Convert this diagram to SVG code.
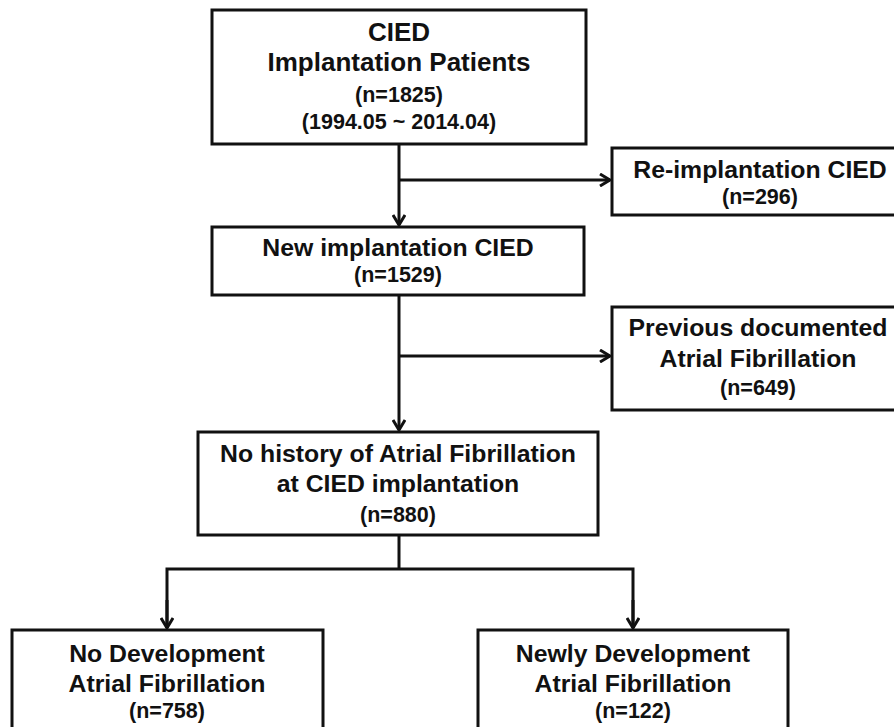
<svg xmlns="http://www.w3.org/2000/svg" width="894" height="727" viewBox="0 0 894 727">
<defs>
<style>
.box{fill:#fff;stroke:#111;stroke-width:3}
.t{font-family:"Liberation Sans",Arial,sans-serif;font-weight:bold;fill:#111;text-anchor:middle}
.big{font-size:26px}
.m{font-size:24.8px}
.s{font-size:21.5px}
.ln{fill:none;stroke:#111;stroke-width:3}
</style>
<marker id="ah" markerWidth="14" markerHeight="14" viewBox="0 0 14 14" refX="12" refY="7" orient="auto" markerUnits="userSpaceOnUse">
<path d="M2,1 L12,7 L2,13" fill="none" stroke="#111" stroke-width="3"/>
</marker>
</defs>
<rect width="894" height="727" fill="#fff"/>
<g id="connectors">
<line class="ln" x1="399" y1="144" x2="399" y2="225" marker-end="url(#ah)"/>
<line class="ln" x1="399" y1="180" x2="610" y2="180" marker-end="url(#ah)"/>
<line class="ln" x1="399" y1="295" x2="399" y2="430" marker-end="url(#ah)"/>
<line class="ln" x1="399" y1="356" x2="610" y2="356" marker-end="url(#ah)"/>
<line class="ln" x1="399" y1="535" x2="399" y2="569"/>
<polyline class="ln" points="167,628 167,569 633,569 633,628"/>
<line class="ln" x1="167" y1="600" x2="167" y2="628" marker-end="url(#ah)"/>
<line class="ln" x1="633" y1="600" x2="633" y2="628" marker-end="url(#ah)"/>
</g>
<g id="n1">
<rect class="box" x="212" y="10" width="374" height="134"/>
<text class="t big" x="399" y="41">CIED</text>
<text class="t big" x="399" y="71">Implantation Patients</text>
<text class="t s" x="399" y="102">(n=1825)</text>
<text class="t s" x="399" y="129">(1994.05 ~ 2014.04)</text>
</g>
<g id="n2">
<rect class="box" x="612" y="148" width="290" height="67"/>
<text class="t m" x="760" y="178">Re-implantation CIED</text>
<text class="t s" x="760" y="204">(n=296)</text>
</g>
<g id="n3">
<rect class="box" x="212" y="227" width="372" height="68"/>
<text class="t m" x="398" y="256">New implantation CIED</text>
<text class="t s" x="398" y="282">(n=1529)</text>
</g>
<g id="n4">
<rect class="box" x="612" y="307" width="290" height="103"/>
<text class="t m" x="758" y="336">Previous documented</text>
<text class="t m" x="758" y="367">Atrial Fibrillation</text>
<text class="t s" x="758" y="395">(n=649)</text>
</g>
<g id="n5">
<rect class="box" x="198" y="432" width="400" height="103"/>
<text class="t m" x="398" y="462">No history of Atrial Fibrillation</text>
<text class="t m" x="398" y="492">at CIED implantation</text>
<text class="t s" x="398" y="522">(n=880)</text>
</g>
<g id="n6">
<rect class="box" x="12" y="630" width="311" height="110"/>
<text class="t m" x="167" y="662">No Development</text>
<text class="t m" x="167" y="692">Atrial Fibrillation</text>
<text class="t s" x="167" y="718">(n=758)</text>
</g>
<g id="n7">
<rect class="box" x="478" y="630" width="310" height="110"/>
<text class="t m" x="633" y="662">Newly Development</text>
<text class="t m" x="633" y="692">Atrial Fibrillation</text>
<text class="t s" x="633" y="718">(n=122)</text>
</g>
</svg>
